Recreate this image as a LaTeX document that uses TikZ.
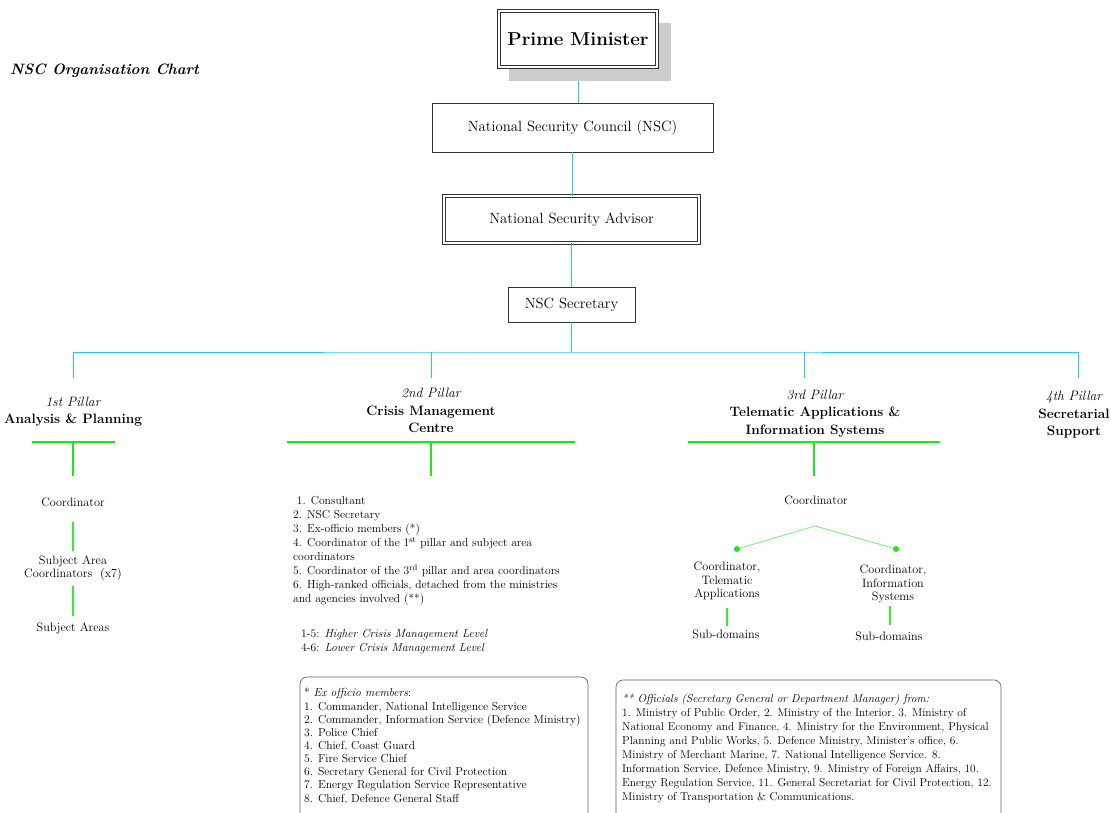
\documentclass[tikz,border=0pt]{standalone}
\usepackage{fontspec}
\definecolor{busblue}{RGB}{40,200,245}
\definecolor{gbright}{RGB}{30,230,30}
\definecolor{glight}{RGB}{100,240,100}
\definecolor{gmid}{RGB}{50,235,50}
\begin{document}
\begin{tikzpicture}[x=1pt,y=-1pt,
  blueline/.style={draw=busblue, line width=1pt},
  greenbar/.style={draw=gbright, line width=1.8pt},
  greenthin/.style={draw=glight, line width=0.7pt},
  greenmid/.style={draw=gmid, line width=1.2pt},
  plainbox/.style={draw=black!80, line width=0.8pt, fill=white, inner sep=0pt},
  dblbox/.style={draw=black!80, double=white, double distance=2pt, line width=0.7pt, fill=white, inner sep=0pt},
  boxtext/.style={font=\fontsize{14.8}{18}\selectfont},
  head/.style={align=center, anchor=north, font=\fontsize{13.6}{17.5}\selectfont},
  body/.style={font=\fontsize{11.6}{13.9}\selectfont},
  lab/.style={font=\fontsize{12.2}{13.6}\selectfont, align=center},
  notebox/.style={draw=black!60, line width=0.7pt, rounded corners=7pt},
]
\useasboundingbox (0,0) rectangle (1111,813);
\clip (0,0) rectangle (1111,813);

% title
\node[font=\fontsize{15}{18}\selectfont\bfseries\itshape, anchor=west, inner sep=0pt] (title) at (10,71) {NSC Organisation Chart};

% top chain
\node[fill=black!20, minimum width=162pt, minimum height=58pt, inner sep=0pt] (pmshadow) at (590,52) {};
\node[dblbox, minimum width=158pt, minimum height=56pt, font=\fontsize{18.7}{22}\selectfont\bfseries] (pm) at (578,39) {Prime Minister};
\node[plainbox, boxtext, minimum width=281pt, minimum height=49pt] (nsc) at (572.5,127.5) {National Security Council (NSC)};
\node[dblbox, boxtext, minimum width=255pt, minimum height=47pt] (nsa) at (571.5,219.5) {National Security Advisor};
\node[plainbox, boxtext, minimum width=127pt, minimum height=35pt] (sec) at (571.5,304.5) {NSC Secretary};

\draw[blueline] (pmshadow.south -| pm.south) -- (pm.south |- nsc.north);
\draw[blueline] (nsc.south) -- (nsc.south |- nsa.north);
\draw[blueline] (nsa.south) -- (nsa.south |- sec.north);

% bus
\coordinate (bus) at (571.5,352);
\coordinate (p1top) at (73,378);
\coordinate (p2top) at (431,378);
\coordinate (p3top) at (804,378);
\coordinate (p4top) at (1078,378);
\draw[blueline] (sec.south) -- (bus);
\draw[blueline] (p1top) |- (bus) -| (p4top);
\draw[blueline] (p2top) -- (p2top |- bus);
\draw[blueline] (p3top) -- (p3top |- bus);

% pillar headings
\node[head] (p1) at (73,393.5) {{\itshape 1st Pillar}\\{\bfseries Analysis \& Planning}};
\node[head] (p2) at (431,385) {{\itshape 2nd Pillar}\\{\bfseries Crisis Management}\\{\bfseries Centre}};
\node[head] (p3) at (815,386.5) {{\itshape 3rd Pillar}\\{\bfseries Telematic Applications \&}\\{\bfseries Information Systems}};
\node[head] (p4) at (1074,388) {{\itshape 4th Pillar}\\{\bfseries Secretarial}\\{\bfseries Support}};

% green bars
\coordinate (b1l) at (32,442); \coordinate (b1r) at (115,442); \coordinate (b1c) at (73,442);
\coordinate (b2l) at (287,442); \coordinate (b2r) at (575,442); \coordinate (b2c) at (431,442);
\coordinate (b3l) at (688,442); \coordinate (b3r) at (940,442); \coordinate (b3c) at (814,442);
\draw[greenbar] (b1l) -- (b1r);
\draw[greenbar] (b2l) -- (b2r);
\draw[greenbar] (b3l) -- (b3r);
\draw[greenbar] (b1c) -- ++(0,34);
\draw[greenbar] (b2c) -- ++(0,34);
\draw[greenbar] (b3c) -- ++(0,34);

% pillar 1
\node[lab] (c1) at (73,502) {Coordinator};
\node[lab] (sac) at (73,568) {Subject Area\\Coordinators\ \ (x7)};
\node[lab] (sa) at (73,628) {Subject Areas};
\draw[greenmid] (73,522) -- (73,551);
\draw[greenmid] (73,586) -- (73,616);

% pillar 2 list
\node[body, anchor=north west, align=left, inner sep=0pt] (list) at (293,496.5) {%
\ 1. Consultant\\
2. NSC Secretary\\
3. Ex-officio members (*)\\
4. Coordinator of the 1\textsuperscript{st} pillar and subject area\\
coordinators\\
5. Coordinator of the 3\textsuperscript{rd} pillar and area coordinators\\
6. High-ranked officials, detached from the ministries\\
and agencies involved (**)};
\node[body, anchor=north west, align=left, inner sep=0pt] (levels) at (301,629.5) {%
1-5: \textit{Higher Crisis Management Level}\\
4-6: \textit{Lower Crisis Management Level}};

% pillar 3
\node[lab] (c3) at (816,500) {Coordinator};
\coordinate (apex) at (815,526);
\coordinate (d1) at (737,549);
\coordinate (d2) at (896,549);
\draw[greenthin] (d1) -- (apex) -- (d2);
\fill[gbright] (d1) circle (3pt) (d2) circle (3pt);
\node[lab] (cta) at (727,581) {Coordinator,\\Telematic\\Applications};
\node[lab] (cis) at (893,584) {Coordinator,\\Information\\Systems};
\node[lab] (sd1) at (726,634) {Sub-domains};
\node[lab] (sd2) at (889,636) {Sub-domains};
\draw[greenmid] (727,608) -- (727,626);
\draw[greenmid] (890,606) -- (890,625);

% note boxes
\draw[notebox] (300,830) -- (300,677) -- (588,677) -- (588,830);
\node[font=\fontsize{11.6}{13.15}\selectfont, anchor=north west, align=left, inner sep=0pt] (exo) at (304,688) {%
* \textit{Ex officio members}:\\
1. Commander, National Intelligence Service\\
2. Commander, Information Service (Defence Ministry)\\
3. Police Chief\\
4. Chief, Coast Guard\\
5. Fire Service Chief\\
6. Secretary General for Civil Protection\\
7. Energy Regulation Service Representative\\
8. Chief, Defence General Staff};

\draw[notebox] (616,830) -- (616,680) -- (1001,680) -- (1001,830);
\node[font=\fontsize{11.4}{14}\selectfont, anchor=north west, align=left, inner sep=0pt] (off) at (622,694) {%
\textit{** Officials (Secretary General or Department Manager) from:}\\
1. Ministry of Public Order, 2. Ministry of the Interior, 3. Ministry of\\
National Economy and Finance, 4. Ministry for the Environment, Physical\\
Planning and Public Works, 5. Defence Ministry, Minister's office, 6.\\
Ministry of Merchant Marine, 7. National Intelligence Service. 8.\\
Information Service, Defence Ministry, 9. Ministry of Foreign Affairs, 10.\\
Energy Regulation Service, 11. General Secretariat for Civil Protection, 12.\\
Ministry of Transportation \& Communications.};
\end{tikzpicture}
\end{document}
